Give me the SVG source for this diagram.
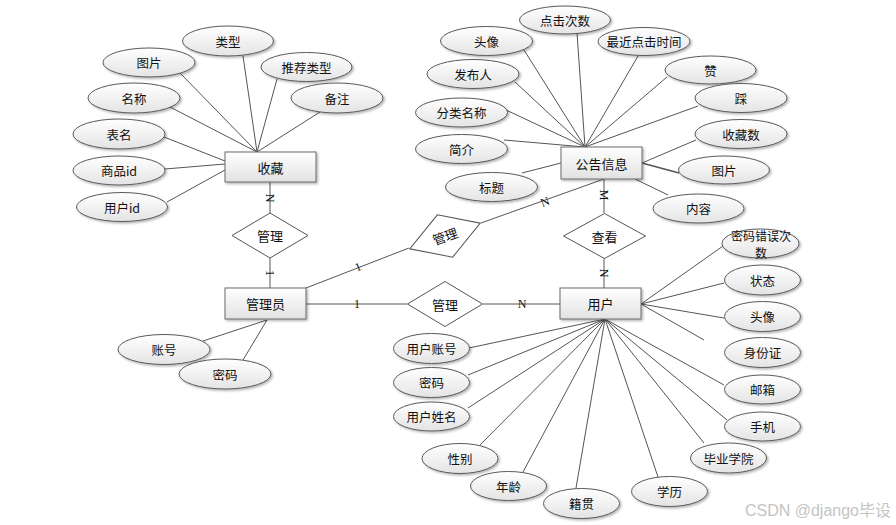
<svg xmlns="http://www.w3.org/2000/svg" width="896" height="525" viewBox="0 0 896 525">
<defs>
<linearGradient id="gE" x1="0" y1="0" x2="0" y2="1"><stop offset="0" stop-color="#ffffff"/><stop offset="1" stop-color="#e4e4e4"/></linearGradient>
<linearGradient id="gR" x1="0" y1="0" x2="0" y2="1"><stop offset="0" stop-color="#ffffff"/><stop offset="1" stop-color="#e2e2e2"/></linearGradient>
<filter id="sh" x="-20%" y="-20%" width="150%" height="160%"><feDropShadow dx="1.5" dy="1.5" stdDeviation="1" flood-color="#000" flood-opacity="0.3"/></filter>
</defs>
<style>
.e{fill:url(#gE);stroke:#5a5a5a;stroke-width:1;filter:url(#sh)}
.r{fill:url(#gR);stroke:#6a6a6a;stroke-width:1;filter:url(#sh)}
.d{fill:#ffffff;stroke:#555;stroke-width:1}
.t{font-family:"Noto Sans CJK SC","Liberation Sans",sans-serif;font-size:12.5px;fill:#111;text-anchor:middle;dominant-baseline:central}
.tr{font-family:"Noto Sans CJK SC","Liberation Sans",sans-serif;font-size:13px;fill:#111;text-anchor:middle;dominant-baseline:central}
.l{stroke:#555;stroke-width:1;fill:none}
.c{font-family:"Liberation Serif",serif;font-size:12px;fill:#111;text-anchor:middle;dominant-baseline:central}
.w{font-family:"Liberation Sans","Noto Sans CJK SC",sans-serif;font-size:16px;fill:#c4c4c4;text-anchor:end}
</style>
<rect width="896" height="525" fill="#ffffff"/>
<g id="connectors">
<line class="l" x1="180" y1="73" x2="257" y2="152"/>
<line class="l" x1="243" y1="56" x2="257" y2="152"/>
<line class="l" x1="277" y1="79" x2="257" y2="152"/>
<line class="l" x1="320" y1="112" x2="257" y2="152"/>
<line class="l" x1="170" y1="107" x2="257" y2="152"/>
<line class="l" x1="164" y1="137" x2="225" y2="161"/>
<line class="l" x1="165" y1="169" x2="225" y2="164"/>
<line class="l" x1="167" y1="202" x2="225" y2="170"/>
<line class="l" x1="524" y1="50" x2="585" y2="147"/>
<line class="l" x1="577" y1="33" x2="585" y2="147"/>
<line class="l" x1="638" y1="56" x2="585" y2="147"/>
<line class="l" x1="515" y1="82" x2="585" y2="147"/>
<line class="l" x1="667" y1="77" x2="585" y2="147"/>
<line class="l" x1="506" y1="110" x2="585" y2="147"/>
<line class="l" x1="698" y1="106" x2="585" y2="147"/>
<line class="l" x1="504" y1="140" x2="585" y2="147"/>
<line class="l" x1="696" y1="140" x2="642" y2="163"/>
<line class="l" x1="679" y1="173" x2="642" y2="163" style="stroke-width:1.4"/>
<line class="l" x1="522" y1="173" x2="561" y2="163"/>
<line class="l" x1="668" y1="195" x2="635" y2="179"/>
<line class="l" x1="203" y1="341" x2="267" y2="320"/>
<line class="l" x1="243" y1="360" x2="267" y2="320"/>
<line class="l" x1="469" y1="348" x2="605" y2="319"/>
<line class="l" x1="468" y1="375" x2="605" y2="319"/>
<line class="l" x1="468" y1="408" x2="605" y2="319"/>
<line class="l" x1="480" y1="445" x2="605" y2="319"/>
<line class="l" x1="523" y1="472" x2="605" y2="319"/>
<line class="l" x1="576" y1="488" x2="605" y2="319"/>
<line class="l" x1="658" y1="477" x2="605" y2="319"/>
<line class="l" x1="704" y1="443" x2="605" y2="319"/>
<line class="l" x1="727" y1="420" x2="605" y2="319"/>
<line class="l" x1="724" y1="385" x2="605" y2="319"/>
<line class="l" x1="704" y1="340" x2="641" y2="304"/>
<line class="l" x1="724" y1="318" x2="641" y2="304"/>
<line class="l" x1="724" y1="283" x2="641" y2="304"/>
<line class="l" x1="723" y1="246" x2="641" y2="304"/>
<line class="l" x1="270" y1="182" x2="270" y2="213"/>
<line class="l" x1="270" y1="258" x2="270" y2="288"/>
<line class="l" x1="306" y1="288" x2="409" y2="248"/>
<line class="l" x1="481" y1="223" x2="604" y2="179"/>
<line class="l" x1="604" y1="179" x2="604" y2="213"/>
<line class="l" x1="604" y1="258" x2="604" y2="288"/>
<line class="l" x1="306" y1="304" x2="407" y2="304"/>
<line class="l" x1="483" y1="304" x2="560" y2="304"/>
<text class="c" transform="translate(270,198) rotate(90)">N</text>
<text class="c" transform="translate(270,273) rotate(90)">1</text>
<text class="c" transform="translate(358,267) rotate(-22)">1</text>
<text class="c" transform="translate(545,202) rotate(-22)">N</text>
<text class="c" transform="translate(604,195) rotate(90)">M</text>
<text class="c" transform="translate(604,273) rotate(90)">N</text>
<text class="c" x="357" y="304">1</text>
<text class="c" x="522" y="304">N</text>
</g>
<g id="shoucang"><rect class="r" x="225" y="152" width="91" height="30"/><text class="tr" x="270.5" y="167">收藏</text></g>
<g id="gonggao"><rect class="r" x="561" y="147" width="81" height="32"/><text class="tr" x="601.5" y="163">公告信息</text></g>
<g id="guanliyuan"><rect class="r" x="225" y="288" width="81" height="31"/><text class="tr" x="265.5" y="303.5">管理员</text></g>
<g id="yonghu"><rect class="r" x="560" y="288" width="81" height="31"/><text class="tr" x="600.5" y="303.5">用户</text></g>
<g id="rel-guanli-1"><polygon class="d" points="270,213 308,235.5 270,258 232,235.5"/><text class="tr" x="270" y="235.5">管理</text></g>
<g id="rel-guanli-2" transform="rotate(-20,445,236)"><polygon class="d" points="445,213.5 482.5,236 445,258.5 407.5,236"/><text class="tr" x="445" y="236">管理</text></g>
<g id="rel-guanli-3"><polygon class="d" points="445,281.5 482.5,304 445,326.5 407.5,304"/><text class="tr" x="445" y="304">管理</text></g>
<g id="rel-chakan"><polygon class="d" points="604.5,213.5 645.5,236 604.5,258.5 563.5,236"/><text class="tr" x="604.5" y="236">查看</text></g>
<g id="a-leixing"><ellipse class="e" cx="228" cy="41" rx="45.5" ry="15"/><text class="t" x="228" y="41">类型</text></g>
<g id="a-tupian1"><ellipse class="e" cx="149" cy="62.5" rx="46" ry="14.5"/><text class="t" x="149" y="62.5">图片</text></g>
<g id="a-tuijian"><ellipse class="e" cx="306.5" cy="67" rx="45.5" ry="14.5"/><text class="t" x="306.5" y="67">推荐类型</text></g>
<g id="a-mingcheng"><ellipse class="e" cx="134" cy="98" rx="46" ry="15"/><text class="t" x="134" y="98">名称</text></g>
<g id="a-beizhu"><ellipse class="e" cx="337" cy="98" rx="46" ry="15"/><text class="t" x="337" y="98">备注</text></g>
<g id="a-biaoming"><ellipse class="e" cx="119" cy="134" rx="46" ry="15"/><text class="t" x="119" y="134">表名</text></g>
<g id="a-shangpinid"><ellipse class="e" cx="119" cy="170.5" rx="46" ry="14.5"/><text class="t" x="119" y="170.5">商品id</text></g>
<g id="a-yonghuid"><ellipse class="e" cx="122" cy="207" rx="45.5" ry="14.5"/><text class="t" x="122" y="207">用户id</text></g>
<g id="a-dianji"><ellipse class="e" cx="565" cy="20" rx="45.5" ry="14"/><text class="t" x="565" y="20">点击次数</text></g>
<g id="a-touxiang1"><ellipse class="e" cx="486.5" cy="41" rx="46" ry="14.5"/><text class="t" x="486.5" y="41">头像</text></g>
<g id="a-zuijin"><ellipse class="e" cx="644" cy="41.5" rx="46" ry="14"/><text class="t" x="644" y="41.5">最近点击时间</text></g>
<g id="a-fabuting"><ellipse class="e" cx="473" cy="74" rx="46" ry="14.5"/><text class="t" x="473" y="74">发布人</text></g>
<g id="a-zan"><ellipse class="e" cx="710.5" cy="70" rx="45.5" ry="14"/><text class="t" x="710.5" y="70">赞</text></g>
<g id="a-fenlei"><ellipse class="e" cx="461.5" cy="112.5" rx="46" ry="14.5"/><text class="t" x="461.5" y="112.5">分类名称</text></g>
<g id="a-cai"><ellipse class="e" cx="741" cy="98" rx="46" ry="14.5"/><text class="t" x="741" y="98">踩</text></g>
<g id="a-shoucangshu"><ellipse class="e" cx="741" cy="134" rx="46" ry="14.5"/><text class="t" x="741" y="134">收藏数</text></g>
<g id="a-jianjie"><ellipse class="e" cx="461.5" cy="149" rx="46" ry="14.5"/><text class="t" x="461.5" y="149">简介</text></g>
<g id="a-tupian2"><ellipse class="e" cx="724" cy="170" rx="45.5" ry="14"/><text class="t" x="724" y="170">图片</text></g>
<g id="a-biaoti"><ellipse class="e" cx="491.5" cy="187" rx="46" ry="14.5"/><text class="t" x="491.5" y="187">标题</text></g>
<g id="a-neirong"><ellipse class="e" cx="698.5" cy="208.5" rx="45.5" ry="14.5"/><text class="t" x="698.5" y="208.5">内容</text></g>
<g id="a-zhanghao"><ellipse class="e" cx="164" cy="349.5" rx="46" ry="15"/><text class="t" x="164" y="349.5">账号</text></g>
<g id="a-mima1"><ellipse class="e" cx="225" cy="374" rx="46" ry="15"/><text class="t" x="225" y="374">密码</text></g>
<g id="a-mimacuowu"><ellipse class="e" cx="760.5" cy="243.5" rx="38.5" ry="14.5"/><text class="t" x="761" y="235" style="font-size:12px">密码错误次</text><text class="t" x="761" y="252" style="font-size:12px">数</text></g>
<g id="a-zhuangtai"><ellipse class="e" cx="762.5" cy="280" rx="38" ry="15"/><text class="t" x="762.5" y="280">状态</text></g>
<g id="a-touxiang2"><ellipse class="e" cx="762.5" cy="316.5" rx="38" ry="15"/><text class="t" x="762.5" y="316.5">头像</text></g>
<g id="a-shenfenzheng"><ellipse class="e" cx="762.5" cy="352.5" rx="38" ry="15"/><text class="t" x="762.5" y="352.5">身份证</text></g>
<g id="a-youxiang"><ellipse class="e" cx="762.5" cy="389.5" rx="38" ry="14.5"/><text class="t" x="762.5" y="389.5">邮箱</text></g>
<g id="a-shouji"><ellipse class="e" cx="762.5" cy="426.5" rx="38" ry="14.5"/><text class="t" x="762.5" y="426.5">手机</text></g>
<g id="a-biye"><ellipse class="e" cx="728.5" cy="458" rx="38" ry="15"/><text class="t" x="728.5" y="458">毕业学院</text></g>
<g id="a-xueli"><ellipse class="e" cx="669.5" cy="491.5" rx="38" ry="15"/><text class="t" x="669.5" y="491.5">学历</text></g>
<g id="a-yonghuzhanghao"><ellipse class="e" cx="431.5" cy="348.5" rx="38" ry="15"/><text class="t" x="431.5" y="348.5">用户账号</text></g>
<g id="a-mima2"><ellipse class="e" cx="431.5" cy="382.5" rx="38" ry="15"/><text class="t" x="431.5" y="382.5">密码</text></g>
<g id="a-xingming"><ellipse class="e" cx="431.5" cy="416.5" rx="38" ry="14.5"/><text class="t" x="431.5" y="416.5">用户姓名</text></g>
<g id="a-xingbie"><ellipse class="e" cx="460" cy="458.5" rx="38" ry="15"/><text class="t" x="460" y="458.5">性别</text></g>
<g id="a-nianling"><ellipse class="e" cx="508.5" cy="486" rx="38" ry="14.5"/><text class="t" x="508.5" y="486">年龄</text></g>
<g id="a-jiguan"><ellipse class="e" cx="581.5" cy="503.5" rx="38" ry="15"/><text class="t" x="581.5" y="503.5">籍贯</text></g>
<text class="w" x="891" y="516">CSDN @django毕设</text>
</svg>
